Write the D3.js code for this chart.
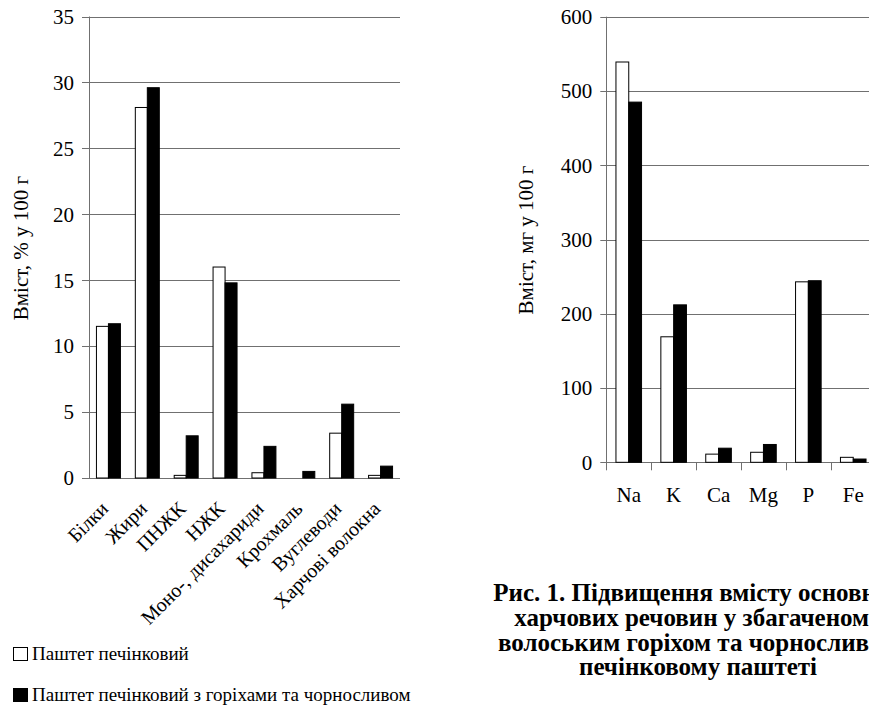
<!DOCTYPE html>
<html>
<head>
<meta charset="utf-8">
<script src="https://cdn.jsdelivr.net/npm/d3@7"></script>
<style>
  html, body { margin: 0; padding: 0; background: #fff; }
  svg { display: block; }
</style>
</head>
<body>
<svg id="chart" width="869" height="705"></svg>
<script>
// ---- Data ----
const leftCategories = ["Білки", "Жири", "ПНЖК", "НЖК", "Моно-, дисахариди", "Крохмаль", "Вуглеводи", "Харчові волокна"];
const leftPlain = [11.5, 28.1, 0.2, 16.0, 0.4, 0, 3.4, 0.2];
const leftEnriched = [11.7, 29.6, 3.2, 14.8, 2.4, 0.5, 5.6, 0.9];
const leftTicks = [0, 5, 10, 15, 20, 25, 30, 35];

const rightCategories = ["Na", "K", "Ca", "Mg", "P", "Fe"];
const rightPlain = [539, 169, 11, 13.5, 243, 6.7];
const rightEnriched = [485, 212, 19, 24, 244.5, 4.4];
const rightTicks = [0, 100, 200, 300, 400, 500, 600];

const seriesNames = ["Паштет печінковий", "Паштет печінковий з горіхами та чорносливом"];
const seriesFill = ["#ffffff", "#000000"];

const leftAxisTitle = "Вміст, % у 100 г";
const rightAxisTitle = "Вміст, мг у 100 г";
const captionLines = [
  "Рис. 1. Підвищення вмісту основних",
  "харчових речовин у збагаченому",
  "волоським горіхом та чорносливом",
  "печінковому паштеті"
];

const FONT = "'Liberation Serif', 'Times New Roman', serif";

const svg = d3.select("#chart").attr("font-family", FONT).style("font-family", FONT);

function drawPanel(opts) {
  const g = svg.append("g");
  const y = d3.scaleLinear().domain(opts.domain).range([opts.y0, opts.y1]);
  const x = d3.scaleBand().domain(opts.categories)
    .range([opts.x0, opts.x1]).paddingInner(opts.pad).paddingOuter(opts.pad / 2);
  const xs = d3.scaleBand().domain([0, 1]).range([0, x.bandwidth()]);

  g.append("g").selectAll("line").data(opts.ticks).join("line")
    .attr("x1", opts.x0 - opts.tickLen).attr("x2", opts.gridEnd)
    .attr("y1", d => Math.round(y(d)) + 0.5).attr("y2", d => Math.round(y(d)) + 0.5)
    .attr("stroke", "#707070").attr("stroke-width", 1);

  g.append("line")
    .attr("x1", Math.round(opts.x0) + 0.5).attr("x2", Math.round(opts.x0) + 0.5)
    .attr("y1", y(opts.domain[1])).attr("y2", y(0) + (opts.bottomTicks ? 8 : 0))
    .attr("stroke", "#707070");

  if (opts.bottomTicks) {
    g.append("g").selectAll("line").data(opts.categories.slice(1)).join("line")
      .attr("x1", d => Math.round(x(d) - x.step() * opts.pad / 2) + 0.5)
      .attr("x2", d => Math.round(x(d) - x.step() * opts.pad / 2) + 0.5)
      .attr("y1", y(0)).attr("y2", y(0) + 8)
      .attr("stroke", "#707070");
  }

  g.append("g").selectAll("text").data(opts.ticks).join("text")
    .attr("x", opts.x0 - opts.tickLen - 8).attr("y", d => y(d))
    .attr("dy", "0.35em").attr("text-anchor", "end")
    .style("font-size", opts.tickFont + "px")
    .text(d => d);

  [opts.a, opts.b].forEach((vals, si) => {
    g.append("g").selectAll("rect").data(vals).join("rect")
      .attr("x", (d, i) => x(opts.categories[i]) + xs(si))
      .attr("y", d => y(d))
      .attr("width", xs.bandwidth())
      .attr("height", d => y(0) - y(d))
      .attr("fill", seriesFill[si])
      .attr("stroke", d => d > 0 ? "#000" : "none")
      .attr("stroke-width", 1);
  });

  g.append("text")
    .attr("transform", `translate(${opts.titleX},${opts.titleY}) rotate(-90)`)
    .attr("text-anchor", "middle").attr("dy", "0.35em")
    .style("font-size", "21px")
    .text(opts.title);

  return { g, x, y };
}

const L = drawPanel({
  categories: leftCategories, a: leftPlain, b: leftEnriched,
  domain: [0, 35], ticks: leftTicks,
  y0: 478, y1: 16.5, x0: 89, x1: 400, gridEnd: 400, pad: 0.383,
  tickLen: 7, tickFont: 21, bottomTicks: false,
  title: leftAxisTitle, titleX: 21, titleY: 248
});
L.g.append("g").selectAll("text").data(leftCategories).join("text")
  .attr("transform", d => `translate(${L.x(d) + L.x.bandwidth() / 2 + 1},${510}) rotate(-45)`)
  .attr("text-anchor", "end")
  .style("font-size", "20px")
  .text(d => d);

const R = drawPanel({
  categories: rightCategories, a: rightPlain, b: rightEnriched,
  domain: [0, 600], ticks: rightTicks,
  y0: 462.3, y1: 16.7, x0: 606.3, x1: 606.3 + 6 * 44.9, gridEnd: 869, pad: 0.43,
  tickLen: 6, tickFont: 21, bottomTicks: true,
  title: rightAxisTitle, titleX: 526, titleY: 240
});
R.g.append("g").selectAll("text").data(rightCategories).join("text")
  .attr("x", d => R.x(d) + R.x.bandwidth() / 2)
  .attr("y", 502)
  .attr("text-anchor", "middle")
  .style("font-size", "21px")
  .text(d => d);

const legend = svg.append("g");
const legendY = [660, 701];
seriesNames.forEach((name, i) => {
  legend.append("rect")
    .attr("x", 13.5).attr("y", legendY[i] - 12.5)
    .attr("width", 14).attr("height", 13)
    .attr("fill", seriesFill[i]).attr("stroke", "#000");
  legend.append("text")
    .attr("x", 32).attr("y", legendY[i])
    .style("font-size", "19px")
    .text(name);
});

const capY = [601, 626, 651, 675];
svg.append("g").selectAll("text").data(captionLines).join("text")
  .attr("x", 698).attr("y", (d, i) => capY[i])
  .attr("text-anchor", "middle")
  .style("font-size", "25px").style("font-weight", "bold")
  .text(d => d);
</script>
</body>
</html>
